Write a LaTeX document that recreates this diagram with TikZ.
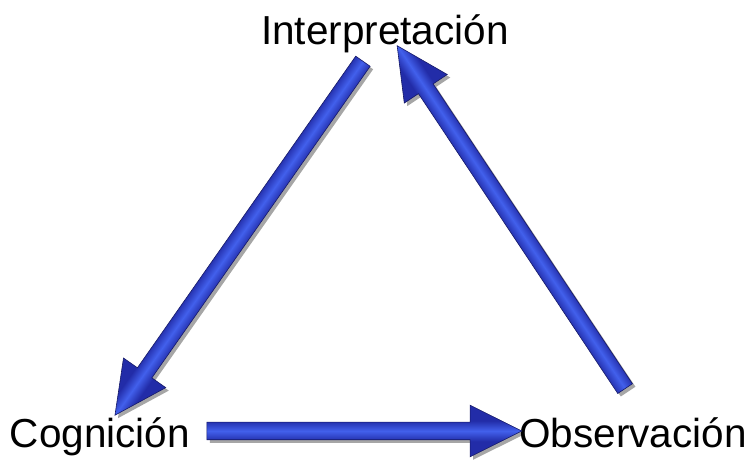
\documentclass[tikz,border=0pt]{standalone}
\usepackage{fontspec}
\setmainfont{Liberation Sans}
\usetikzlibrary{positioning, shapes.arrows, shadows, calc}

\definecolor{arrowdark}{RGB}{34,44,168}
\definecolor{arrowlight}{RGB}{66,96,236}
\definecolor{arrowedge}{RGB}{22,26,104}
\pgfdeclareverticalshading{arrowshade}{100bp}{color(0bp)=(arrowdark); color(40bp)=(arrowdark); color(50bp)=(arrowlight); color(60bp)=(arrowdark); color(100bp)=(arrowdark)}

\tikzset{
  term/.style={font=\fontsize{40.5}{48}\selectfont, anchor=base, inner sep=0pt},
  bigarrow/.style={single arrow, draw=arrowedge, line width=0.6pt, shading=arrowshade,
    minimum width=51pt, single arrow head extend=17pt, single arrow tip angle=53,
    inner xsep=0pt, inner ysep=8.5pt}
}

% block arrow from #1 to #2, named #3
\newcommand{\blockarrow}[3]{%
  \path let \p1=(#1), \p2=(#2) in \pgfextra{%
      \pgfmathsetmacro{\arrowang}{atan2(\y2-\y1,\x2-\x1)}%
      \pgfmathsetmacro{\arrowlen}{veclen(\x2-\x1,\y2-\y1)}%
      \global\let\arrowang\arrowang \global\let\arrowlen\arrowlen}
    coordinate (#3c) at ($(\p1)!0.5!(\p2)$);
  \pgfmathsetmacro{\shx}{3*cos(\arrowang)-3*sin(\arrowang)}%
  \pgfmathsetmacro{\shy}{-3*sin(\arrowang)-3*cos(\arrowang)}%
  \begin{scope}[transform canvas={shift={(#3c)}, rotate=\arrowang}]
    \node[bigarrow, minimum height=\arrowlen pt,
      drop shadow={shadow xshift=\shx pt, shadow yshift=\shy pt, opacity=0.35, fill=black}] (#3) at (0,0) {};
  \end{scope}}

\begin{document}
\begin{tikzpicture}[x=1pt, y=1pt]
    \useasboundingbox (0,0) rectangle (756,461);

    % Terms
    \node[term] (interp) at (385,416) {Interpretación};
    \node[term] (cog) at (100,13) {Cognición};
    \node[term] (obs) at (633,13) {Observación};

    % Arrow ends
    \coordinate (t1) at ($(interp.base)+(-17,-9)$);
    \coordinate (h1) at ($(cog.base)+(20,40)$);
    \coordinate (t2) at ($(obs.base)+(-3,52)$);
    \coordinate (h2) at ($(interp.base)+(17,-8)$);
    \coordinate (t3) at ($(cog.base)+(98,17)$);
    \coordinate (h3) at ($(obs.base)+(-120,17)$);

    % Arrows
    \blockarrow{t1}{h1}{a1}
    \blockarrow{t2}{h2}{a2}
    \blockarrow{t3}{h3}{a3}

\end{tikzpicture}
\end{document}
